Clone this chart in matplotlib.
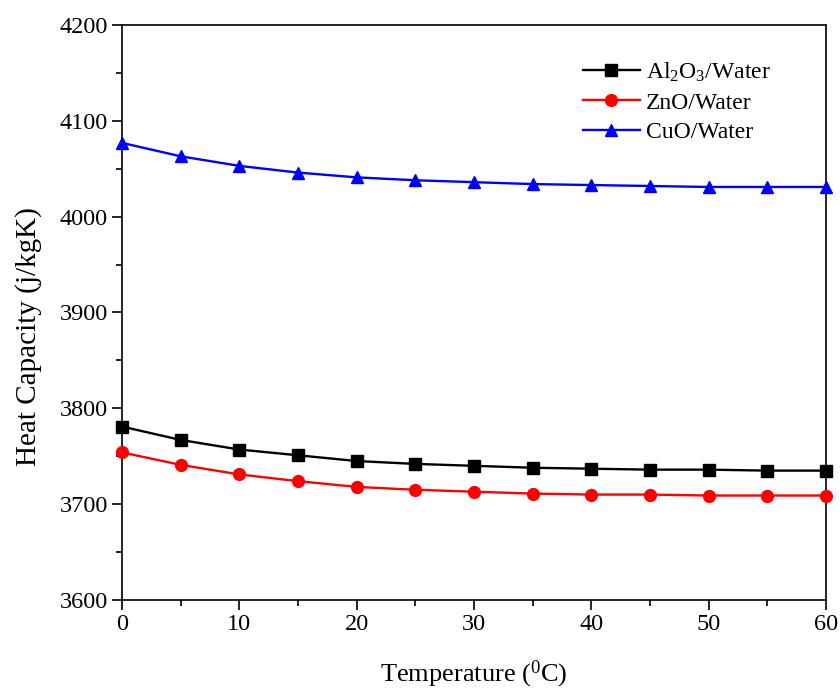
import matplotlib
matplotlib.use('Agg')
import matplotlib.pyplot as plt
from matplotlib.ticker import MultipleLocator

plt.rcParams['font.family'] = 'Liberation Serif'
plt.rcParams['mathtext.fontset'] = 'custom'
plt.rcParams['mathtext.rm'] = 'Liberation Serif'
plt.rcParams['mathtext.it'] = 'Liberation Serif:italic'

# temperature (C)
temperature = [0, 5, 10, 15, 20, 25, 30, 35, 40, 45, 50, 55, 60]

# heat capacity (j/kgK)
al2o3 = [3781, 3767, 3757, 3751, 3745, 3742, 3740, 3738, 3737, 3736, 3736, 3735, 3735]
zno = [3754, 3741, 3731, 3724, 3718, 3715, 3713, 3711, 3710, 3710, 3709, 3709, 3709]
cuo = [4077, 4063, 4053, 4046, 4041, 4038, 4036, 4034, 4033, 4032, 4031, 4031, 4031]

fig = plt.figure(figsize=(8.4, 6.89), dpi=100)
ax = fig.add_axes([0.1452, 0.1292, 0.8381, 0.8345])

ax.plot(temperature, al2o3, color='black', marker='s', markersize=8, linewidth=1.7,
        label='Al$_2$O$_3$/Water', clip_on=False, zorder=3)
ax.plot(temperature, zno, color='red', marker='o', markersize=8.5, linewidth=1.7,
        label='ZnO/Water', clip_on=False, zorder=3)
ax.plot(temperature, cuo, color='blue', marker='^', markersize=9, linewidth=1.7,
        label='CuO/Water', clip_on=False, zorder=3)

ax.set_xlim(0, 60)
ax.set_ylim(3600, 4200)
ax.xaxis.set_major_locator(MultipleLocator(10))
ax.xaxis.set_minor_locator(MultipleLocator(5))
ax.yaxis.set_major_locator(MultipleLocator(100))
ax.yaxis.set_minor_locator(MultipleLocator(50))
ax.tick_params(which='both', direction='out', top=False, right=False, width=1.2,
               labelsize=17.5)
ax.tick_params(axis='x', pad=3)
ax.tick_params(axis='y', pad=3)
ax.tick_params(which='major', length=7)
ax.tick_params(which='minor', length=4)
for s in ax.spines.values():
    s.set_linewidth(1.2)

ax.set_xlabel('Temperature ($^0$C)', fontsize=19, labelpad=17)
ax.set_ylabel('Heat Capacity (j/kgK)', fontsize=21)
ax.yaxis.set_label_coords(-0.114, 0.459)

ax.legend(loc='upper left', bbox_to_anchor=(0.655, 0.938), frameon=False, fontsize=17,
          handlelength=2.4, labelspacing=0.34, handletextpad=0.25,
          borderpad=0, borderaxespad=0)

fig.savefig('out.png', dpi=100)
